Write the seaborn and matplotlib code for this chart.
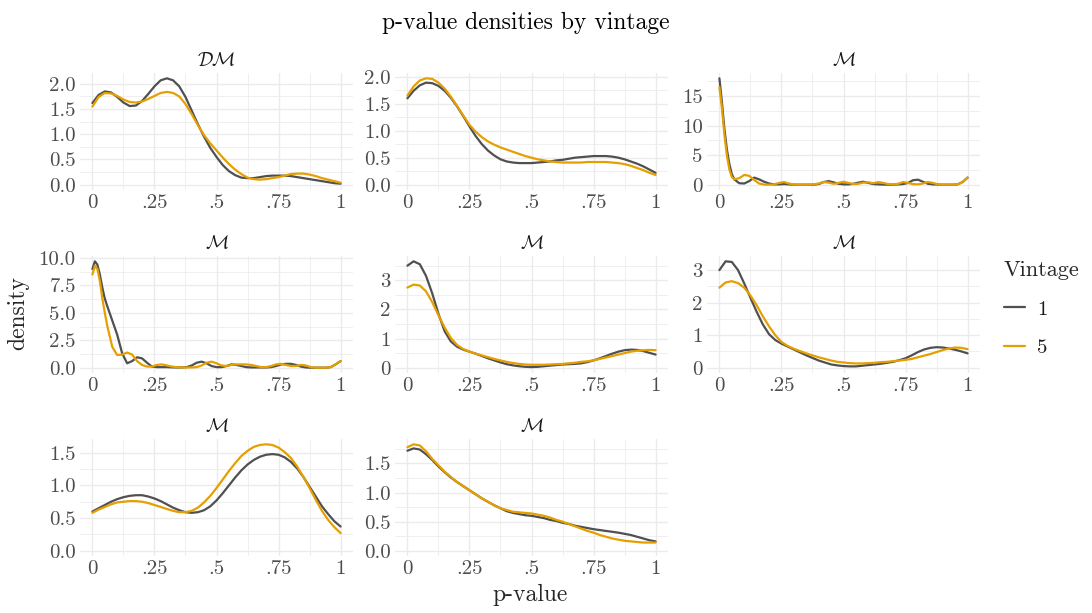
import numpy as np
import pandas as pd
import matplotlib
matplotlib.use("Agg")
import matplotlib.pyplot as plt
import seaborn as sns

# ---------------- data ----------------
vintages = ["1", "5"]
panel_titles = [r"$\mathcal{DM}$", "", r"$\mathcal{M}$", r"$\mathcal{M}$",
                r"$\mathcal{M}$", r"$\mathcal{M}$", r"$\mathcal{M}$", r"$\mathcal{M}$"]

x_smooth = [0.0, 0.025, 0.05, 0.075, 0.1, 0.125, 0.15, 0.175, 0.2, 0.225,
            0.25, 0.275, 0.3, 0.325, 0.35, 0.375, 0.4, 0.425, 0.45, 0.475,
            0.5, 0.525, 0.55, 0.575, 0.6, 0.625, 0.65, 0.675, 0.7, 0.725,
            0.75, 0.775, 0.8, 0.825, 0.85, 0.875, 0.9, 0.925, 0.95, 0.975, 1.0]
x_fine = [0.0, 0.01, 0.02, 0.03, 0.04, 0.05, 0.06, 0.08, 0.10, 0.12, 0.14, 0.16,
          0.18, 0.20, 0.22, 0.24, 0.26, 0.28, 0.30, 0.32, 0.34, 0.36, 0.38, 0.40,
          0.42, 0.44, 0.46, 0.48, 0.50, 0.52, 0.54, 0.56, 0.58, 0.60, 0.62, 0.64,
          0.66, 0.68, 0.70, 0.72, 0.74, 0.76, 0.78, 0.80, 0.82, 0.84, 0.86, 0.88,
          0.90, 0.92, 0.94, 0.96, 0.98, 1.00]

p1_v1 = [1.62, 1.78, 1.85, 1.83, 1.74, 1.63, 1.56, 1.57, 1.66, 1.80,
         1.95, 2.07, 2.11, 2.07, 1.95, 1.74, 1.47, 1.20, 0.95, 0.73,
         0.55, 0.39, 0.27, 0.19, 0.14, 0.13, 0.13, 0.15, 0.17, 0.18,
         0.18, 0.18, 0.17, 0.15, 0.13, 0.11, 0.09, 0.07, 0.05, 0.03, 0.02]
p1_v5 = [1.55, 1.74, 1.82, 1.81, 1.76, 1.69, 1.64, 1.63, 1.65, 1.70,
         1.76, 1.82, 1.84, 1.82, 1.75, 1.60, 1.40, 1.18, 0.98, 0.82,
         0.68, 0.54, 0.41, 0.30, 0.21, 0.14, 0.11, 0.10, 0.11, 0.13,
         0.15, 0.18, 0.21, 0.22, 0.22, 0.20, 0.17, 0.13, 0.10, 0.07, 0.04]

p2_v1 = [1.60, 1.74, 1.84, 1.89, 1.88, 1.83, 1.74, 1.61, 1.45, 1.27,
         1.08, 0.90, 0.75, 0.63, 0.54, 0.47, 0.43, 0.41, 0.40, 0.40,
         0.40, 0.41, 0.42, 0.43, 0.45, 0.46, 0.48, 0.50, 0.51, 0.52,
         0.53, 0.53, 0.53, 0.52, 0.50, 0.47, 0.43, 0.39, 0.34, 0.28, 0.22]
p2_v5 = [1.65, 1.82, 1.93, 1.97, 1.96, 1.89, 1.78, 1.63, 1.46, 1.28,
         1.11, 0.98, 0.88, 0.80, 0.74, 0.69, 0.65, 0.61, 0.57, 0.53,
         0.50, 0.47, 0.45, 0.43, 0.42, 0.41, 0.41, 0.41, 0.41, 0.42,
         0.42, 0.42, 0.42, 0.41, 0.40, 0.38, 0.35, 0.31, 0.27, 0.22, 0.18]

p3_v1 = [18.0, 14.0, 9.5, 6.0, 3.5, 1.8, 0.9, 0.25, 0.2, 0.6, 1.2, 0.9,
         0.5, 0.2, 0.05, 0.05, 0.1, 0.05, 0.0, 0.0, 0.0, 0.0, 0.0, 0.1,
         0.45, 0.6, 0.4, 0.15, 0.05, 0.05, 0.15, 0.35, 0.5, 0.3, 0.1, 0.05,
         0.02, 0.0, 0.0, 0.05, 0.1, 0.3, 0.75, 0.85, 0.5, 0.15, 0.05, 0.02,
         0.0, 0.0, 0.0, 0.05, 0.45, 1.2]
p3_v5 = [16.5, 13.0, 8.5, 5.0, 2.6, 1.3, 0.9, 1.1, 1.65, 1.5, 0.8, 0.2,
         0.02, 0.0, 0.05, 0.3, 0.45, 0.2, 0.02, 0.0, 0.0, 0.0, 0.05, 0.2,
         0.45, 0.35, 0.15, 0.3, 0.5, 0.3, 0.1, 0.15, 0.35, 0.4, 0.25, 0.45,
         0.3, 0.1, 0.05, 0.15, 0.45, 0.3, 0.1, 0.05, 0.2, 0.45, 0.3, 0.05,
         0.0, 0.0, 0.0, 0.05, 0.45, 1.2]

p4_v1 = [9.0, 9.7, 9.4, 8.5, 7.3, 6.3, 5.6, 4.3, 3.0, 1.3, 0.4, 0.6,
         0.95, 0.85, 0.45, 0.1, 0.05, 0.05, 0.05, 0.03, 0.02, 0.02, 0.05, 0.2,
         0.45, 0.55, 0.4, 0.15, 0.05, 0.05, 0.15, 0.3, 0.25, 0.15, 0.05, 0.02,
         0.02, 0.02, 0.02, 0.05, 0.15, 0.3, 0.35, 0.35, 0.25, 0.1, 0.02, 0.0,
         0.0, 0.0, 0.0, 0.05, 0.3, 0.6]
p4_v5 = [8.5, 9.3, 9.0, 7.9, 6.3, 5.0, 3.8, 1.9, 1.15, 1.2, 1.38, 1.2,
         0.6, 0.25, 0.1, 0.1, 0.25, 0.3, 0.2, 0.1, 0.05, 0.02, 0.02, 0.02,
         0.05, 0.2, 0.45, 0.55, 0.4, 0.2, 0.15, 0.25, 0.3, 0.3, 0.3, 0.25,
         0.15, 0.05, 0.05, 0.15, 0.3, 0.35, 0.25, 0.15, 0.15, 0.25, 0.2, 0.05,
         0.0, 0.0, 0.0, 0.05, 0.3, 0.6]

p5_v1 = [3.50, 3.65, 3.55, 3.15, 2.55, 1.85, 1.25, 0.90, 0.72, 0.62,
         0.55, 0.48, 0.40, 0.32, 0.25, 0.18, 0.12, 0.08, 0.05, 0.03,
         0.02, 0.03, 0.05, 0.07, 0.09, 0.11, 0.12, 0.13, 0.15, 0.19,
         0.25, 0.32, 0.40, 0.48, 0.55, 0.60, 0.62, 0.61, 0.57, 0.51, 0.45]
p5_v5 = [2.75, 2.85, 2.82, 2.62, 2.25, 1.80, 1.38, 1.02, 0.78, 0.64,
         0.55, 0.48, 0.42, 0.36, 0.30, 0.25, 0.20, 0.16, 0.13, 0.11,
         0.10, 0.10, 0.10, 0.11, 0.12, 0.13, 0.15, 0.17, 0.20, 0.22,
         0.25, 0.30, 0.35, 0.40, 0.45, 0.50, 0.55, 0.58, 0.60, 0.61, 0.60]

p6_v1 = [3.00, 3.27, 3.25, 3.00, 2.59, 2.15, 1.72, 1.33, 1.03, 0.85,
         0.74, 0.65, 0.56, 0.47, 0.38, 0.30, 0.22, 0.16, 0.10, 0.07,
         0.05, 0.04, 0.04, 0.06, 0.08, 0.10, 0.12, 0.15, 0.18, 0.23,
         0.29, 0.38, 0.48, 0.56, 0.61, 0.63, 0.62, 0.59, 0.55, 0.50, 0.44]
p6_v5 = [2.46, 2.62, 2.66, 2.60, 2.46, 2.22, 1.92, 1.58, 1.27, 1.00,
         0.79, 0.67, 0.58, 0.51, 0.44, 0.38, 0.32, 0.27, 0.22, 0.18,
         0.16, 0.14, 0.13, 0.13, 0.14, 0.15, 0.17, 0.18, 0.20, 0.22,
         0.24, 0.27, 0.32, 0.37, 0.42, 0.48, 0.54, 0.59, 0.62, 0.61, 0.57]

p7_v1 = [0.60, 0.65, 0.70, 0.75, 0.79, 0.82, 0.84, 0.85, 0.85, 0.83,
         0.80, 0.76, 0.71, 0.66, 0.62, 0.59, 0.58, 0.59, 0.62, 0.68,
         0.77, 0.88, 1.00, 1.12, 1.23, 1.32, 1.39, 1.44, 1.47, 1.48,
         1.47, 1.43, 1.36, 1.26, 1.13, 0.98, 0.83, 0.68, 0.56, 0.45, 0.37]
p7_v5 = [0.58, 0.63, 0.67, 0.71, 0.74, 0.75, 0.76, 0.76, 0.75, 0.73,
         0.70, 0.67, 0.64, 0.61, 0.59, 0.59, 0.61, 0.66, 0.74, 0.84,
         0.96, 1.09, 1.22, 1.34, 1.45, 1.53, 1.59, 1.62, 1.63, 1.62,
         1.58, 1.51, 1.42, 1.29, 1.13, 0.96, 0.78, 0.61, 0.47, 0.36, 0.27]

p8_v1 = [1.72, 1.76, 1.74, 1.66, 1.56, 1.45, 1.35, 1.26, 1.18, 1.11,
         1.04, 0.97, 0.90, 0.84, 0.78, 0.73, 0.68, 0.65, 0.63, 0.61,
         0.60, 0.58, 0.56, 0.53, 0.51, 0.48, 0.46, 0.43, 0.41, 0.39,
         0.37, 0.355, 0.34, 0.325, 0.31, 0.29, 0.27, 0.24, 0.21, 0.18, 0.16]
p8_v5 = [1.78, 1.83, 1.81, 1.71, 1.58, 1.47, 1.36, 1.27, 1.18, 1.11,
         1.04, 0.97, 0.90, 0.84, 0.78, 0.73, 0.70, 0.67, 0.66, 0.65,
         0.64, 0.62, 0.60, 0.57, 0.53, 0.50, 0.46, 0.42, 0.38, 0.34,
         0.31, 0.27, 0.24, 0.21, 0.19, 0.17, 0.16, 0.15, 0.14, 0.14, 0.14]

x_ticks = [0, 0.25, 0.5, 0.75, 1]
x_tick_labels = ["0", ".25", ".5", ".75", "1"]

y_ticks = [
    [0.0, 0.5, 1.0, 1.5, 2.0],
    [0.0, 0.5, 1.0, 1.5, 2.0],
    [0, 5, 10, 15],
    [0.0, 2.5, 5.0, 7.5, 10.0],
    [0, 1, 2, 3],
    [0, 1, 2, 3],
    [0.0, 0.5, 1.0, 1.5],
    [0.0, 0.5, 1.0, 1.5],
]
y_tick_labels = [
    ["0.0", "0.5", "1.0", "1.5", "2.0"],
    ["0.0", "0.5", "1.0", "1.5", "2.0"],
    ["0", "5", "10", "15"],
    ["0.0", "2.5", "5.0", "7.5", "10.0"],
    ["0", "1", "2", "3"],
    ["0", "1", "2", "3"],
    ["0.0", "0.5", "1.0", "1.5"],
    ["0.0", "0.5", "1.0", "1.5"],
]

panels = [
    (x_smooth, p1_v1, p1_v5),
    (x_smooth, p2_v1, p2_v5),
    (x_fine, p3_v1, p3_v5),
    (x_fine, p4_v1, p4_v5),
    (x_smooth, p5_v1, p5_v5),
    (x_smooth, p6_v1, p6_v5),
    (x_smooth, p7_v1, p7_v5),
    (x_smooth, p8_v1, p8_v5),
]
for xs, a, b in panels:
    assert len(xs) == len(a) == len(b)

# ---------------- style ----------------
sns.set_theme(style="white")
plt.rcParams["font.family"] = ["cmr10", "DejaVu Serif"]
plt.rcParams["mathtext.fontset"] = "cm"
plt.rcParams["axes.formatter.use_mathtext"] = True

palette = {"1": "#505050", "5": "#E69F00"}
grid_col = "#EBEBEB"
W, H = 1092, 613
fig = plt.figure(figsize=(W / 100, H / 100), dpi=100)

col_left = [80, 395, 707]
row_top = [73, 256, 439]
pw, ph = 273, 117

handles = labels = None
for i, (xs, v1, v5) in enumerate(panels):
    r, c = divmod(i, 3)
    ax = fig.add_axes([col_left[c] / W, 1 - (row_top[r] + ph) / H, pw / W, ph / H])
    df = pd.DataFrame({
        "p": list(xs) + list(xs),
        "density": list(v1) + list(v5),
        "Vintage": ["1"] * len(xs) + ["5"] * len(xs),
    })
    sns.lineplot(data=df, x="p", y="density", hue="Vintage", hue_order=vintages,
                 palette=palette, estimator=None, sort=False, lw=1.6, ax=ax,
                 legend=(i == 0))
    for ln in ax.get_lines():
        ln.set_solid_joinstyle("round")
    if i == 0:
        handles, labels = ax.get_legend_handles_labels()
        ax.get_legend().remove()
    allv = list(v1) + list(v5)
    lo, hi = min(0, min(allv)), max(allv)
    pad = 0.05 * (hi - lo)
    ax.set_ylim(lo - pad, hi + pad)
    ax.set_xlim(-0.05, 1.05)
    ax.set_xticks(x_ticks)
    ax.set_xticklabels(x_tick_labels)
    ax.set_xticks([0.125, 0.375, 0.625, 0.875], minor=True)
    yt = y_ticks[i]
    ax.set_yticks(yt)
    ax.set_yticklabels(y_tick_labels[i])
    step = yt[1] - yt[0]
    ax.set_yticks([t + step / 2 for t in yt if t + step / 2 < hi + pad], minor=True)
    ax.tick_params(which="both", length=0, labelsize=15, labelcolor="#4D4D4D", pad=3)
    ax.grid(which="major", color=grid_col, lw=1.0)
    ax.grid(which="minor", color=grid_col, lw=0.55)
    ax.set_axisbelow(True)
    for s in ax.spines.values():
        s.set_visible(False)
    ax.set_xlabel("")
    ax.set_ylabel("")
    ax.set_title(panel_titles[i], fontsize=14, color="#1A1A1A", pad=5)

fig.text(0.481, 0.962, "p-value densities by vintage", ha="center", va="center",
         fontsize=17, color="black")
fig.text(0.485, 0.030, "p-value", ha="center", va="center", fontsize=17)
fig.text(0.017, 0.49, "density", ha="center", va="center", rotation=90, fontsize=17)

leg = fig.legend(handles, labels, title="Vintage", loc="upper left",
                 bbox_to_anchor=(985 / W, 1 - 242 / H), frameon=False, fontsize=15,
                 title_fontsize=16, handlelength=1.0, handletextpad=0.6,
                 labelspacing=0.95, alignment="left")
for t in leg.get_texts():
    t.set_color("#1A1A1A")

fig.savefig("out.png", dpi=100)
